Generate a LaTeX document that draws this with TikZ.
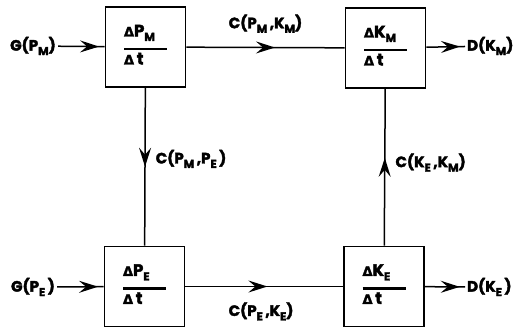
\documentclass[tikz,border=0pt]{standalone}
\usepackage{fontspec}
\setmainfont{Poppins}[FakeBold=2.5]
\newfontfamily\grk{DejaVu Sans}[FakeBold=2]
\usetikzlibrary{arrows.meta, decorations.markings}
\newcommand{\sub}[1]{\raisebox{-4.5pt}{\fontsize{11.5}{12}\selectfont #1}}
\newcommand{\dlt}{{\grk\bfseries\fontsize{13}{13}\selectfont Δ}}
\newcommand{\rate}[2]{{\fontsize{16.5}{17}\selectfont
  \begin{tabular}{@{}l@{}}\dlt#1\\[-3pt]\rule{43pt}{2.5pt}\\[-3pt]\dlt\,#2\end{tabular}}}

\begin{document}
\begin{tikzpicture}[
    x=1pt, y=-1pt,
    font=\fontsize{15}{16}\selectfont\bfseries,
    blk/.style={draw, line width=1.7pt, minimum width=80pt, minimum height=80pt,
                inner sep=0pt, align=center},
    lbl/.style={inner sep=2pt},
    flow/.style={line width=1.5pt, postaction={decorate},
                 decoration={markings, mark=at position #1 with
                   {\arrow{Stealth[length=19pt, width=12pt, inset=7pt]}}}},
    flow/.default=0.5
  ]
    \useasboundingbox (0,0) rectangle (516,330);
    \node[blk] (pm) at (145.5,47)  {\rate{P\sub{M}}{t}};
    \node[blk] (km) at (385.5,48)  {\rate{K\sub{M}}{t}};
    \node[blk] (pe) at (144.5,286.5) {\rate{P\sub{E}}{t}};
    \node[blk] (ke) at (384,286.5) {\rate{K\sub{E}}{t}};
    \node[lbl] (gpm) at (33,46)  {G(P\sub{M})};
    \node[lbl] (gpe) at (33,287) {G(P\sub{E}\,)};
    \node[lbl, anchor=west] (dkm) at (465,46)  {D(K\sub{M})};
    \node[lbl, anchor=west] (dke) at (465,287) {D(K\sub{E}\,)};
    \draw[flow=0.88] (gpm) -- (pm);
    \draw[flow=0.88] (gpe) -- (pe);
    \draw[flow=0.87] (km) -- (dkm);
    \draw[flow=0.87] (ke) -- (dke);
    \draw[flow=0.56] (pm) -- node[lbl, pos=0.5, above=12pt] {C(P\sub{M}\,,K\sub{M})} (km);
    \draw[flow=0.52] (pe) -- node[lbl, pos=0.48, below=13pt] {C(P\sub{E}\,,K\sub{E})} (ke);
    \draw[flow=0.5] (pm) -- node[lbl, pos=0.45, right=8pt] {C(P\sub{M}\,,P\sub{E}\,)} (pe);
    \draw[flow=0.56] (ke) -- node[lbl, pos=0.53, right=8pt] {C(K\sub{E}\,,K\sub{M})} (km);
  \end{tikzpicture}
\end{document}
